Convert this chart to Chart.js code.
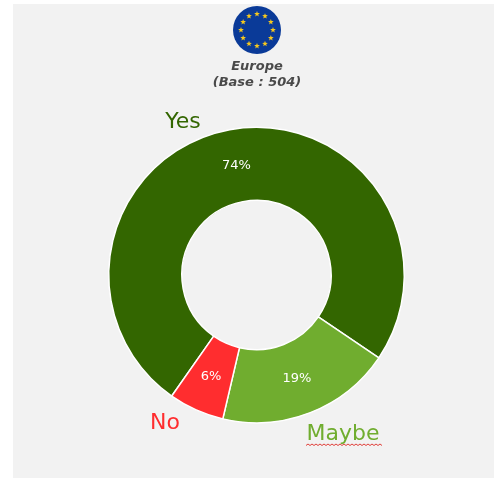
<!DOCTYPE html>
<html>
<head>
<meta charset="utf-8">
<style>
  html, body { margin: 0; padding: 0; background: #fff; }
  #wrap { position: relative; width: 494px; height: 478px; }
  #myChart { display: block; }
</style>
<script src="https://cdn.jsdelivr.net/npm/chart.js@4"></script>
</head>
<body>
<div id="wrap"><canvas id="myChart" width="494" height="478"></canvas></div>
<script>
const categories = ["Yes", "Maybe", "No"];
const shares = [74, 19, 6];
const sliceColors = ["#336600", "#70ad2f", "#ff2d2f"];
const titleLines = ["Europe", "(Base : 504)"];

// where the category names sit around the ring
const namePositions = [[183, 122], [343, 434], [165, 423]];

const FONT = "'DejaVu Sans', Verdana, sans-serif";

function drawStar(c, x, y, r) {
  c.beginPath();
  for (let i = 0; i < 10; i++) {
    const a = -Math.PI / 2 + i * Math.PI / 5;
    const d = i % 2 === 0 ? r : r * 0.42;
    c.lineTo(x + Math.cos(a) * d, y + Math.sin(a) * d);
  }
  c.closePath();
  c.fill();
}

// panel behind everything
const panel = {
  id: "panel",
  beforeDraw(chart) {
    const c = chart.ctx;
    c.save();
    c.fillStyle = "#f2f2f2";
    c.fillRect(13, 4, chart.width - 13, chart.height - 4);
    c.restore();
  },
};

// EU flag badge and the two heading lines
const header = {
  id: "header",
  afterDraw(chart) {
    const c = chart.ctx;
    c.save();
    c.fillStyle = "#0a3a98";
    c.beginPath();
    c.arc(257, 30, 24, 0, Math.PI * 2);
    c.fill();
    c.fillStyle = "#f6c81e";
    for (let i = 0; i < 12; i++) {
      const a = i * Math.PI / 6;
      drawStar(c, 257 + Math.cos(a) * 16, 30 + Math.sin(a) * 16, 3);
    }
    c.fillStyle = "#4a4a4a";
    c.textAlign = "center";
    c.textBaseline = "middle";
    c.font = "italic bold 13px " + FONT;
    c.fillText(titleLines[0], 257, 67);
    c.fillText(titleLines[1], 257, 83);
    c.restore();
  },
};

// percentages on the slices, category names outside
const sliceLabels = {
  id: "sliceLabels",
  afterDatasetsDraw(chart) {
    const c = chart.ctx;
    const arcs = chart.getDatasetMeta(0).data;
    c.save();
    c.textAlign = "center";
    c.textBaseline = "middle";
    arcs.forEach((arc, i) => {
      const p = arc.tooltipPosition();
      c.fillStyle = "#ffffff";
      c.font = "13px " + FONT;
      c.fillText(shares[i] + "%", p.x, p.y);

      c.fillStyle = sliceColors[i];
      c.font = "22px " + FONT;
      c.fillText(categories[i], namePositions[i][0], namePositions[i][1]);
    });

    // squiggle under "Maybe"
    c.strokeStyle = "#e0403a";
    c.lineWidth = 1;
    c.beginPath();
    for (let x = 306; x <= 382; x += 2) {
      c.lineTo(x, 444 + (x % 4 === 0 ? 0 : 1.5));
    }
    c.stroke();
    c.restore();
  },
};

new Chart(document.getElementById("myChart"), {
  type: "doughnut",
  data: {
    labels: categories,
    datasets: [{
      data: shares,
      backgroundColor: sliceColors,
      borderColor: "#ffffff",
      borderWidth: 1.5,
      borderAlign: "center",
    }],
  },
  options: {
    responsive: false,
    animation: false,
    rotation: -145,
    cutout: "50.5%",
    layout: { padding: { left: 108, right: 89, top: 126, bottom: 54 } },
    plugins: {
      legend: { display: false },
      tooltip: { enabled: false },
    },
  },
  plugins: [panel, header, sliceLabels],
});
</script>
</body>
</html>
